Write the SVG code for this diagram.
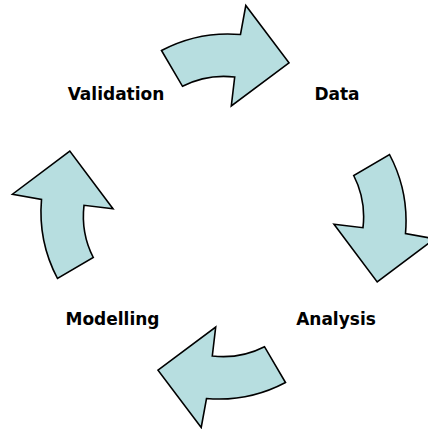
<svg xmlns="http://www.w3.org/2000/svg" xmlns:xlink="http://www.w3.org/1999/xlink" width="428" height="429" viewBox="0 0 428 429">
<style>
.arrow{fill:#B7DEE0;stroke:#000;stroke-width:1.6;stroke-linejoin:miter}
.lbl{font-family:"DejaVu Sans","Verdana",sans-serif;font-weight:bold;font-size:17px;fill:#000;text-anchor:middle}
</style>
<defs>
<path id="cyc" class="arrow" d="M161.5,50.5 Q198.6,30.9 240.5,34.5 L245.8,5.5 L289,62.8 L231.3,106 L234.7,77 Q206.8,73.8 182.5,86.3 Z"/>
</defs>
<rect width="428" height="429" fill="#fff"/>
<g id="connectors">
<use xlink:href="#cyc" href="#cyc"/>
<use xlink:href="#cyc" href="#cyc" transform="rotate(90 223.5 216.5)"/>
<use xlink:href="#cyc" href="#cyc" transform="rotate(180 223.5 216.5)"/>
<use xlink:href="#cyc" href="#cyc" transform="rotate(270 223.5 216.5)"/>
</g>
<g id="data"><text class="lbl" x="337" y="100">Data</text></g>
<g id="analysis"><text class="lbl" x="336" y="325">Analysis</text></g>
<g id="modelling"><text class="lbl" x="112.5" y="325">Modelling</text></g>
<g id="validation"><text class="lbl" x="116" y="100">Validation</text></g>
</svg>
